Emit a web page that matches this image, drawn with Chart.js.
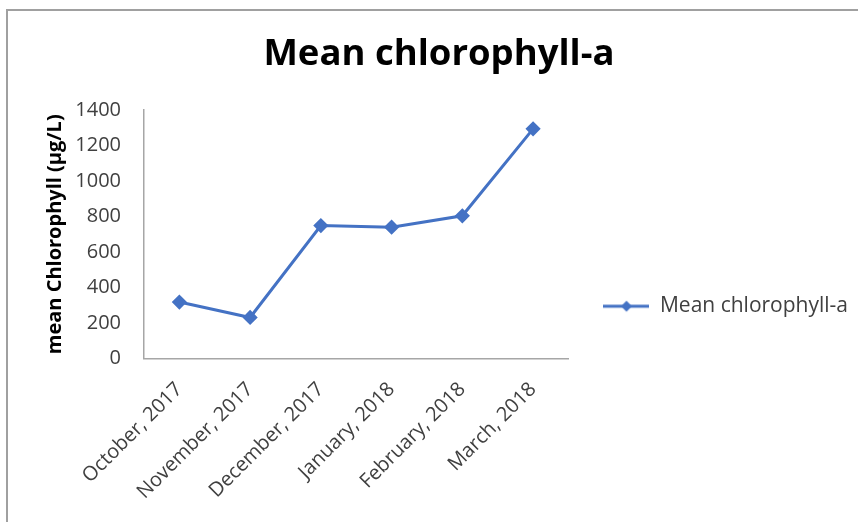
<!DOCTYPE html>
<html>
<head>
<meta charset="utf-8">
<script src="https://cdn.jsdelivr.net/npm/chart.js@4"></script>
<style>
  html, body { margin: 0; padding: 0; background: #fff; overflow: hidden; }
  #wrap { position: relative; width: 858px; height: 522px; }
  #frame { position: absolute; left: 6px; top: 9px; width: 900px; height: 560px;
           border-top: 2px solid #a0a0a0; border-left: 2px solid #a0a0a0; }
  canvas { position: absolute; left: 0; top: 0; }
</style>
</head>
<body>
<div id="wrap">
  <div id="frame"></div>
  <canvas id="chart" width="858" height="522"></canvas>
</div>
<script>
const months = ['October, 2017', 'November, 2017', 'December, 2017', 'January, 2018', 'February, 2018', 'March, 2018'];
const meanChlorophyll = [319, 232, 749, 740, 804, 1293];
const yMin = 0;
const yMax = 1400;
const yStep = 200;

const blue = '#4472C4';
const textGrey = '#404040';
const axisGrey = '#a6a6a6';
const font = 'Open Sans';

// little line + diamond used as legend symbol
function legendSymbol() {
    const c = document.createElement('canvas');
    c.width = 46;
    c.height = 14;
    const g = c.getContext('2d');
    g.strokeStyle = blue;
    g.lineWidth = 3;
    g.beginPath();
    g.moveTo(0, 7);
    g.lineTo(46, 7);
    g.stroke();
    g.fillStyle = blue;
    g.beginPath();
    g.moveTo(23, 1.5);
    g.lineTo(28.5, 7);
    g.lineTo(23, 12.5);
    g.lineTo(17.5, 7);
    g.closePath();
    g.fill();
    return c;
}

const ctx = document.getElementById('chart').getContext('2d');
new Chart(ctx, {
    type: 'line',
    data: {
        labels: months,
        datasets: [{
            label: 'Mean chlorophyll-a',
            data: meanChlorophyll,
            borderColor: blue,
            backgroundColor: blue,
            borderWidth: 3,
            pointStyle: 'rectRot',
            pointRadius: 5.5,
            pointBackgroundColor: blue,
            pointBorderColor: blue,
            fill: false,
            tension: 0
        }]
    },
    options: {
        responsive: false,
        devicePixelRatio: 1,
        animation: false,
        layout: { padding: { left: 20, right: 0, top: 0, bottom: -1 } },
        plugins: {
            title: {
                display: true,
                text: 'Mean chlorophyll-a',
                color: '#000',
                font: { family: font, size: 36.5, weight: 'bold' },
                padding: { top: 33, bottom: 33 }
            },
            legend: {
                position: 'right',
                maxWidth: 400,
                // empty title only pushes the entry down to mid height
                title: { display: true, text: '', padding: { top: 75, bottom: 0 } },
                labels: {
                    usePointStyle: true,
                    pointStyle: legendSymbol(),
                    pointStyleWidth: 46,
                    padding: 35,
                    color: textGrey,
                    font: { family: font, size: 21 }
                }
            },
            tooltip: { enabled: false }
        },
        scales: {
            x: {
                offset: true,
                grid: { display: false, drawTicks: false },
                border: { display: true, color: axisGrey, width: 1.5 },
                ticks: {
                    color: textGrey,
                    font: { family: font, size: 20 },
                    minRotation: 45,
                    maxRotation: 45,
                    padding: 19
                },
                // rotated labels may run under the y axis, as in the original
                afterFit: s => { s.paddingLeft = 0; }
            },
            y: {
                min: yMin,
                max: yMax,
                grid: { display: false, drawTicks: false },
                border: { display: true, color: axisGrey, width: 1.5 },
                ticks: {
                    stepSize: yStep,
                    color: textGrey,
                    font: { family: font, size: 20 },
                    padding: 23,
                    callback: v => String(v)
                },
                title: {
                    display: true,
                    text: 'mean Chlorophyll (µg/L)',
                    color: '#000',
                    font: { family: font, size: 20, weight: 'bold' },
                    padding: { top: 23, bottom: 4 }
                },
                afterFit: s => { s.width = 124; }
            }
        }
    }
});
</script>
</body>
</html>
